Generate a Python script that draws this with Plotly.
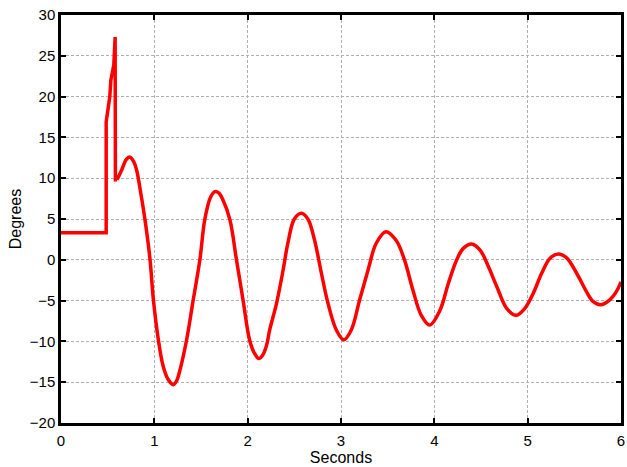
import plotly.graph_objects as go

# Step/spike segment (drawn with straight segments)
t_step = [0.0, 0.484, 0.484, 0.523, 0.534, 0.566, 0.580, 0.583, 0.600]
v_step = [3.3, 3.3, 16.9, 20.0, 22.0, 23.9, 27.3, 9.8, 9.8]

# Oscillation segment (smooth)
t_osc = [0.600, 0.650, 0.700, 0.735, 0.780, 0.810, 0.850, 0.900, 0.954, 0.990,
         1.043, 1.096, 1.150, 1.203, 1.240, 1.275, 1.346, 1.417, 1.488, 1.540,
         1.600, 1.648, 1.690, 1.737, 1.810, 1.880, 1.950, 2.020, 2.070, 2.120,
         2.160, 2.200, 2.236, 2.310, 2.380, 2.430, 2.500, 2.575, 2.645, 2.717,
         2.790, 2.860, 2.950, 3.030, 3.110, 3.200, 3.290, 3.376, 3.480, 3.590,
         3.680, 3.770, 3.860, 3.950, 4.060, 4.150, 4.240, 4.310, 4.400, 4.490,
         4.580, 4.670, 4.775, 4.875, 4.970, 5.060, 5.150, 5.240, 5.330, 5.420,
         5.525, 5.630, 5.700, 5.780, 5.880, 5.950, 6.000]
v_osc = [9.8, 11.0, 12.3, 12.6, 12.0, 11.0, 8.5, 4.9, 0.0, -4.9,
         -9.8, -13.1, -14.7, -15.3, -14.8, -13.5, -9.8, -4.9, 0.0, 4.9,
         7.6, 8.35, 8.2, 7.3, 4.9, 0.0, -4.9, -9.8, -11.4, -12.1,
         -11.7, -10.6, -8.6, -5.3, -1.25, 2.0, 5.0, 5.7, 5.0, 2.4,
         -1.65, -5.3, -8.6, -9.8, -8.6, -4.9, -1.25, 2.0, 3.45, 2.4,
         0.0, -3.7, -6.8, -8.0, -6.2, -2.9, 0.0, 1.4, 1.95, 1.2,
         -0.85, -3.3, -5.95, -6.8, -5.95, -4.1, -1.65, 0.2, 0.7, 0.2,
         -1.65, -3.9, -5.1, -5.5, -4.9, -3.9, -2.7]

x_ticks = [0, 1, 2, 3, 4, 5, 6]
y_ticks = [-20, -15, -10, -5, 0, 5, 10, 15, 20, 25, 30]
y_tick_text = [("\u2212" + str(-v)) if v < 0 else str(v) for v in y_ticks]

RED = "#ff0000"
FONT = "Liberation Sans, Arial, sans-serif"

fig = go.Figure()
fig.add_trace(go.Scatter(x=t_step, y=v_step, mode="lines",
                         line=dict(color=RED, width=3.5), showlegend=False,
                         hoverinfo="skip"))
fig.add_trace(go.Scatter(x=t_osc, y=v_osc, mode="lines",
                         line=dict(color=RED, width=3.5, shape="spline", smoothing=1.0),
                         showlegend=False))

axis_common = dict(
    showline=True, linecolor="black", linewidth=2.5, mirror="ticks",
    ticks="inside", ticklen=5, tickwidth=2, tickcolor="black",
    showgrid=True, gridcolor="#b0b0b0", gridwidth=1, griddash="3px,2px",
    zeroline=False, automargin=False, ticklabeloverflow="allow",
    tickfont=dict(family=FONT, size=15, color="black"),
)

fig.update_xaxes(range=[0, 6], tickvals=x_ticks, ticklabelstandoff=2,
                 title=dict(text="Seconds", font=dict(family=FONT, size=16, color="black"),
                            standoff=3),
                 **axis_common)
fig.update_yaxes(range=[-20, 30], tickvals=y_ticks, ticktext=y_tick_text,
                 ticklabelstandoff=0,
                 title=dict(text="Degrees", font=dict(family=FONT, size=16, color="black"),
                            standoff=5),
                 **axis_common)

fig.update_layout(
    width=627, height=467,
    margin=dict(l=61, r=6, t=15, b=44),
    paper_bgcolor="white", plot_bgcolor="white",
    font=dict(family=FONT, color="black"),
)

fig.write_html("out.html",
               config={"displayModeBar": False},
               post_script="document.body.style.margin='0';document.body.style.overflow='hidden';")
